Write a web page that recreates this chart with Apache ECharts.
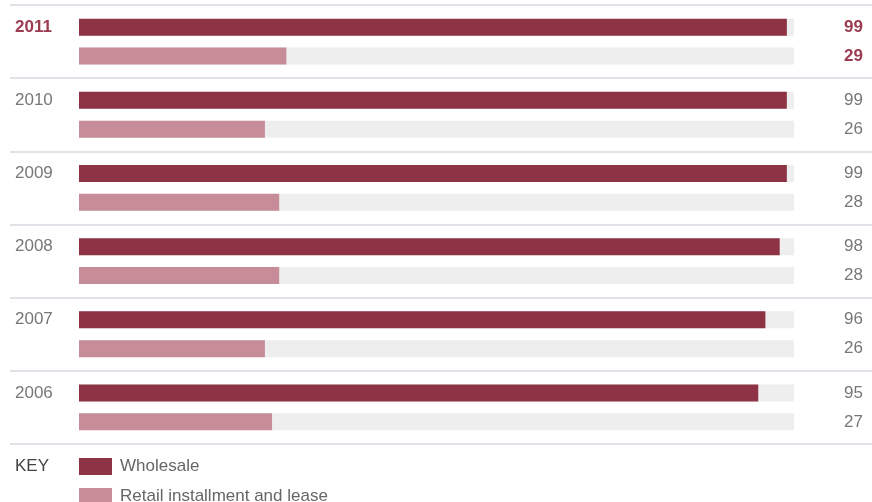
<!DOCTYPE html>
<html>
<head>
<meta charset="utf-8">
<script src="https://cdn.jsdelivr.net/npm/echarts@6/dist/echarts.min.js"></script>
<style>
	html, body { margin: 0; padding: 0; background: #fff; }
	#main { width: 872px; height: 502px; }
</style>
</head>
<body>
<div id="main"></div>
<script>
// data
const years = ['2011', '2010', '2009', '2008', '2007', '2006'];
const wholesale = [99, 99, 99, 98, 96, 95];
const retail = [29, 26, 28, 28, 26, 27];
const seriesNames = ['Wholesale', 'Retail installment and lease'];

const font = 'Liberation Sans, Arial, sans-serif';
const dark = '#8e3246';
const light = '#c68d98';
const hiColor = '#9b3a50';

// label styles, 2011 is highlighted
const labelRich = {
	n: { fontSize: 17, color: '#777', lineHeight: 29, fontFamily: font },
	hi: { fontSize: 17, color: hiColor, fontWeight: 'bold', lineHeight: 29, fontFamily: font }
};
const tag = i => (i === 0 ? 'hi' : 'n');

const legendItem = (name, top) => ({
	data: [name],
	left: 79,
	top: top,
	padding: 0,
	icon: 'rect',
	itemWidth: 33,
	itemHeight: 17,
	selectedMode: false,
	textStyle: { fontSize: 17, color: '#666', fontFamily: font, padding: [0, 0, 0, 3] }
});

let chart = echarts.init(document.getElementById('main'));
let option = {
	animation: false,
	textStyle: { fontFamily: font },
	title: {
		text: 'KEY',
		left: 15,
		top: 458,
		padding: 0,
		textStyle: { fontSize: 17, fontWeight: 'normal', color: '#444', fontFamily: font }
	},
	legend: [
		legendItem(seriesNames[0], 458),
		legendItem(seriesNames[1], 488)
	],
	grid: [
		{ left: 79, top: 5, width: 715, height: 439, outerBoundsMode: 'none' },
		{ left: 10, right: 0, top: 5, height: 439, outerBoundsMode: 'none' } // only for the separator lines
	],
	xAxis: [
		{ gridIndex: 0, type: 'value', min: 0, max: 100, show: false },
		{ gridIndex: 1, type: 'value', min: 0, max: 1, show: false }
	],
	yAxis: [
		{
			gridIndex: 0,
			type: 'category',
			data: years,
			inverse: true,
			axisLine: { show: false },
			axisTick: { show: false },
			splitLine: { show: false },
			axisLabel: {
				align: 'left',
				margin: 64,
				rich: labelRich,
				formatter: (v, i) => '{' + tag(i) + '|' + v + '}\n{n| }'
			}
		},
		{
			gridIndex: 0,
			type: 'category',
			position: 'right',
			data: years,
			inverse: true,
			axisLine: { show: false },
			axisTick: { show: false },
			splitLine: { show: false },
			axisLabel: {
				align: 'right',
				margin: 69,
				rich: labelRich,
				formatter: (v, i) => '{' + tag(i) + '|' + wholesale[i] + '}\n{' + tag(i) + '|' + retail[i] + '}'
			}
		},
		{
			gridIndex: 1,
			type: 'category',
			data: years,
			inverse: true,
			axisLine: { show: false },
			axisTick: { show: false },
			axisLabel: { show: false },
			splitLine: { show: true, lineStyle: { color: '#d6dae1', width: 1.5 } }
		}
	],
	series: [
		{
			name: seriesNames[0],
			type: 'bar',
			xAxisIndex: 0,
			yAxisIndex: 0,
			data: wholesale,
			barWidth: 17,
			barGap: '70%',
			showBackground: true,
			backgroundStyle: { color: '#eeeeee' },
			itemStyle: { color: dark }
		},
		{
			name: seriesNames[1],
			type: 'bar',
			xAxisIndex: 0,
			yAxisIndex: 0,
			data: retail,
			barWidth: 17,
			barGap: '70%',
			showBackground: true,
			backgroundStyle: { color: '#eeeeee' },
			itemStyle: { color: light }
		}
	]
};
chart.setOption(option);
</script>
</body>
</html>
